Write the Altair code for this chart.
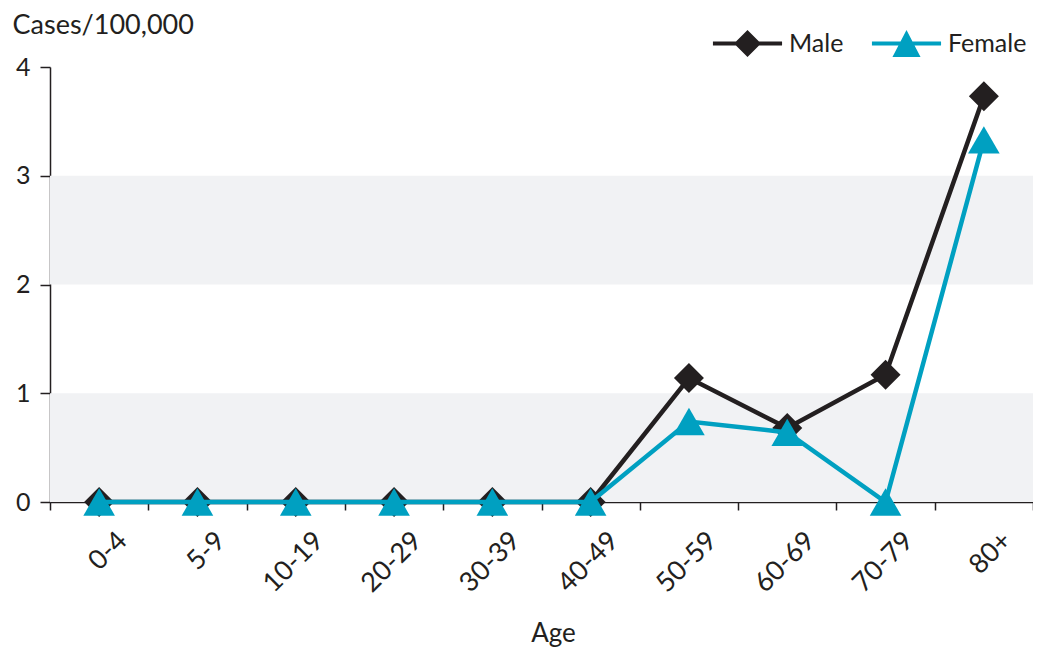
import altair as alt
import pandas as pd

ages = ["0-4", "5-9", "10-19", "20-29", "30-39", "40-49", "50-59", "60-69", "70-79", "80+"]
male = [0, 0, 0, 0, 0, 0, 1.14, 0.68, 1.17, 3.73]
female = [0, 0, 0, 0, 0, 0, 0.74, 0.64, 0, 3.33]
series = ["Male", "Female"]
colors = ["#231f20", "#00a0c1"]
band_lo = [0, 2]
band_hi = [1, 3]

FONT = "Lato"
INK = "#231f20"

rows = []
for a, m, f in zip(ages, male, female):
    rows.append({"age": a, "sex": "Male", "v": m})
    rows.append({"age": a, "sex": "Female", "v": f})
df = pd.DataFrame(rows)
bands = pd.DataFrame({"lo": band_lo, "hi": band_hi})

xscale = alt.Scale(domain=ages, paddingInner=0, paddingOuter=0)
yscale = alt.Scale(domain=[0, 4], nice=False)

x_axis = alt.Axis(
    title="Age", titleFont=FONT, titleFontSize=26, titleFontWeight="normal", titleColor=INK,
    titleX=503, titleY=139, titleBaseline="alphabetic",
    labelAngle=-45, labelFont=FONT, labelFontSize=27, labelColor=INK,
    labelOffset=14, labelPadding=17,
    tickBand="extent", tickColor=INK, tickSize=8, tickWidth=1.5,
    domainColor=INK, domainWidth=1.5, grid=False,
)
y_axis = alt.Axis(
    title="Cases/100,000", titleFont=FONT, titleFontSize=27, titleFontWeight="normal", titleColor=INK,
    titleAngle=0, titleAlign="left", titleBaseline="alphabetic", titleX=-38, titleY=-34,
    values=[0, 1, 2, 3, 4], labelFont=FONT, labelFontSize=25, labelColor=INK, labelPadding=10,
    tickColor=INK, tickSize=10, tickWidth=1.5, domainColor=INK, domainWidth=1.5, grid=False,
)

base = alt.Chart(df)

band_layer = alt.Chart(bands).mark_rect(color="#f1f2f4").encode(
    y=alt.Y("lo:Q", scale=yscale, axis=y_axis),
    y2="hi:Q",
)

def line_layer(name, col):
    return base.transform_filter(alt.datum.sex == name).mark_line(strokeWidth=4.5, color=col).encode(
        x=alt.X("age:N", scale=xscale, sort=ages, axis=x_axis),
        y=alt.Y("v:Q", scale=yscale, axis=y_axis),
    )

def point_layer(name, col, shape, size):
    return base.transform_filter(alt.datum.sex == name).mark_point(
        filled=True, shape=shape, size=size, opacity=1, color=col
    ).encode(
        x=alt.X("age:N", scale=xscale, sort=ages, axis=x_axis),
        y=alt.Y("v:Q", scale=yscale, axis=y_axis),
    )

male_sym = "M-2.56,-0.15L2.56,-0.15L2.56,0.15L-2.56,0.15Z M0,-1L1,0L0,1L-1,0Z"
female_sym = "M-2.56,-0.15L2.56,-0.15L2.56,0.15L-2.56,0.15Z M0,-1L1.04,1L-1.04,1Z"

leg = dict(
    title=None, orient="none", legendX=684, legendY=-37, direction="horizontal",
    labelFont=FONT, labelFontSize=25, labelColor=INK, labelOffset=28,
    symbolSize=729, columnPadding=27, padding=0, symbolStrokeWidth=0, symbolOpacity=1,
)

legend_layer = base.transform_filter(alt.datum.age == "0-4").mark_point(
    filled=True, size=729, opacity=0
).encode(
    x=alt.X("age:N", scale=xscale, sort=ages, axis=x_axis),
    y=alt.Y("v:Q", scale=yscale, axis=y_axis),
    color=alt.Color("sex:N", scale=alt.Scale(domain=series, range=colors), legend=alt.Legend(**leg)),
    shape=alt.Shape("sex:N", scale=alt.Scale(domain=series, range=[male_sym, female_sym]),
                    legend=alt.Legend(**leg)),
)

chart = alt.layer(
    band_layer,
    line_layer("Male", colors[0]),
    point_layer("Male", colors[0], "diamond", 900),
    line_layer("Female", colors[1]),
    point_layer("Female", colors[1], "triangle-up", 1000),
    legend_layer,
).properties(
    width=983, height=435,
    autosize=alt.AutoSizeParams(type="none"),
    padding={"left": 42, "top": 59, "right": 0, "bottom": 146},
).configure_view(stroke=None)

chart.save("out.html", embed_options={"renderer": "svg", "actions": False})
